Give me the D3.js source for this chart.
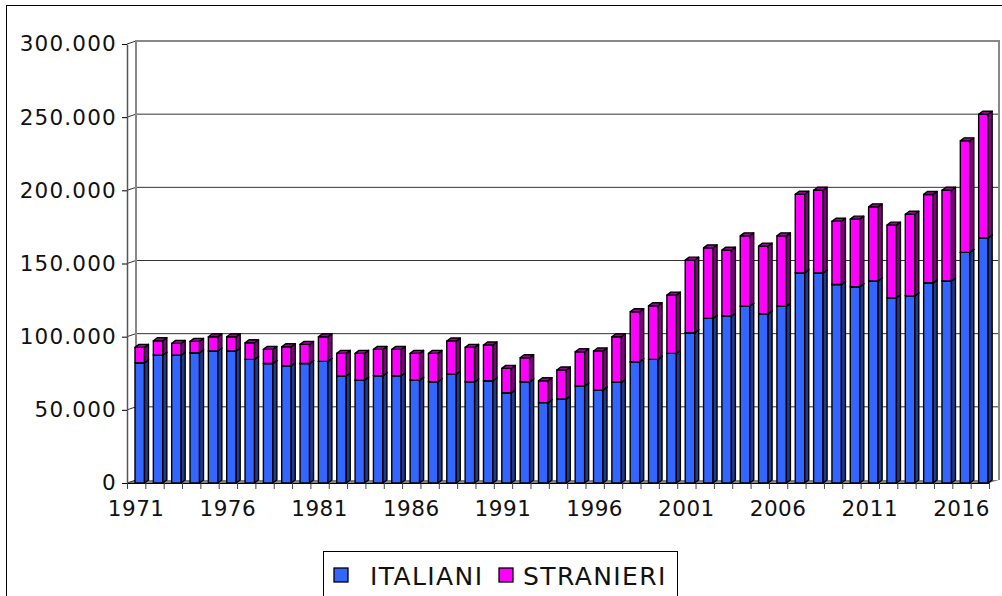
<!DOCTYPE html>
<html>
<head>
<meta charset="utf-8">
<script src="https://cdn.jsdelivr.net/npm/d3@7"></script>
<style>
  body { margin: 0; background: #fff; }
  svg { display: block; font-family: "DejaVu Sans", Verdana, sans-serif; }
</style>
</head>
<body>
<div id="canvas"></div>
<script>
"use strict"

/* data */
let years = d3.range(1971, 2018);
let italiani = [
  82200, 87400, 87400, 89000, 90200, 90200, 84500, 81700, 80100, 81700,
  83100, 73100, 70300, 73300, 73300, 70300, 69200, 74400, 69200, 69900,
  61700, 69200, 54900, 57400, 66300, 63500, 68800, 82900, 84500, 88600,
  102700, 112500, 114100, 120900, 115600, 120900, 143600, 143600, 135700, 134100,
  138000, 126600, 127900, 136800, 138000, 157600, 167500
];
let totali = [
  92700, 97200, 95400, 96800, 99900, 99900, 95800, 91300, 93100, 94700,
  99900, 88600, 88600, 91300, 91300, 88600, 88600, 97000, 92700, 94300,
  78300, 85600, 69900, 77200, 89700, 90200, 99900, 117000, 121100, 128400,
  152300, 160700, 159100, 168900, 161900, 168900, 197300, 200100, 178900, 180300,
  188700, 176200, 183700, 197200, 200100, 233800, 252000
];
let stranieri = totali.map((t, i) => t - italiani[i]);
let seriesNames = ["ITALIANI", "STRANIERI"];
let yTicks = [0, 50000, 100000, 150000, 200000, 250000, 300000];
let labelYears = years.filter(y => (y - 1971) % 5 === 0);

/* colours: front, side, top */
let colors = {
  ITALIANI: ["#3366ff", "#1f3a8f", "#2a55d0"],
  STRANIERI: ["#ff00ff", "#800080", "#a000a0"]
};

let W = 1002, H = 596;
let plotLeft = 127, plotRight = 989, plotTop = 44, plotBottom = 483;
let wallDx = 9, wallDy = -3;   // depth of back wall
let barDx = 4, barDy = -3;     // depth of each bar

let drawing = d3.select("#canvas")
  .append("svg")
  .attr("width", W)
  .attr("height", H);

/* outer frame */
drawing.append("rect")
  .attr("x", 6.5).attr("y", 5.5)
  .attr("width", 1010).attr("height", 610)
  .attr("fill", "none").attr("stroke", "black").attr("stroke-width", 1);

let y = d3.scaleLinear().domain([0, 300000]).range([plotBottom, plotTop]);
let x = d3.scaleBand().domain(years).range([plotLeft, plotRight]);
let xEdge = d3.scaleLinear().domain([0, years.length]).range([plotLeft, plotRight]);

let it = d3.formatLocale({ decimal: ",", thousands: ".", grouping: [3], currency: ["", ""] });
let fmt = it.format(",");

/* floor */
drawing.append("polygon")
  .attr("points", [[plotLeft, plotBottom], [plotLeft + wallDx, plotBottom + wallDy],
    [plotRight + wallDx + 1, plotBottom + wallDy], [plotRight, plotBottom]].join(" "))
  .attr("fill", "#808080");

/* gridlines on back wall + diagonals */
let grid = drawing.append("g");
yTicks.forEach(t => {
  if (t > 0 && t < 300000) {
    grid.append("line")
      .attr("x1", plotLeft + wallDx).attr("x2", plotRight + wallDx + 1)
      .attr("y1", y(t) + wallDy).attr("y2", y(t) + wallDy)
      .attr("stroke", "#333").attr("stroke-width", 1);
  }
  grid.append("line")
    .attr("x1", plotLeft).attr("y1", y(t))
    .attr("x2", plotLeft + wallDx).attr("y2", y(t) + wallDy)
    .attr("stroke", "#333").attr("stroke-width", 1);
});

/* back wall outline */
drawing.append("path")
  .attr("d", `M${plotLeft + wallDx},${plotBottom + wallDy} V${plotTop + wallDy} H${plotRight + wallDx + 1} V${plotBottom + wallDy}`)
  .attr("fill", "none").attr("stroke", "#888").attr("stroke-width", 2);

/* y axis */
let yAxis = drawing.append("g")
  .attr("transform", `translate(${plotLeft},0)`)
  .call(d3.axisLeft(y).tickValues(yTicks).tickFormat(fmt).tickSize(5).tickSizeOuter(0));
yAxis.select(".domain").attr("stroke", "#555").attr("stroke-width", 1.5);
yAxis.selectAll("text")
  .attr("x", -10)
  .attr("font-size", 21.5)
  .attr("letter-spacing", 1.2)
  .attr("fill", "#111")
  .attr("font-family", "DejaVu Sans");

/* x axis ticks at category edges */
let xTickAxis = drawing.append("g")
  .attr("transform", `translate(0,${plotBottom})`)
  .call(d3.axisBottom(xEdge).tickValues(d3.range(0, years.length + 1)).tickFormat("").tickSize(6).tickSizeOuter(0));
xTickAxis.select(".domain").attr("stroke", "#000").attr("stroke-width", 1.2);
xTickAxis.selectAll(".tick line").attr("stroke", "#444");

/* x labels */
let xLabelAxis = drawing.append("g")
  .attr("transform", `translate(0,${plotBottom})`)
  .call(d3.axisBottom(x).tickValues(labelYears).tickSize(0));
xLabelAxis.select(".domain").remove();
xLabelAxis.selectAll("text")
  .attr("y", 18)
  .attr("font-size", 21.5)
  .attr("letter-spacing", 0.5)
  .attr("fill", "#111")
  .attr("font-family", "DejaVu Sans");

/* stacked 3D bars */
let table = years.map((yr, i) => ({ year: yr, ITALIANI: italiani[i], STRANIERI: stranieri[i] }));
let stacked = d3.stack().keys(seriesNames)(table);
let barW = 9.5, barOff = 8;

let bars = drawing.append("g");
table.forEach((row, i) => {
  stacked.forEach(s => {
    let d = s[i];
    let x0 = x(row.year) + barOff, x1 = x0 + barW;
    let y0 = y(d[0]), y1 = y(d[1]);
    let c = colors[s.key];
    let g = bars.append("g")
      .attr("stroke", "#000").attr("stroke-width", 1.4).attr("stroke-linejoin", "round");
    g.append("rect")
      .attr("x", x0).attr("y", y1)
      .attr("width", barW).attr("height", y0 - y1)
      .attr("fill", c[0]);
    g.append("polygon")
      .attr("points", [[x1, y1], [x1 + barDx, y1 + barDy], [x1 + barDx, y0 + barDy], [x1, y0]].join(" "))
      .attr("fill", c[1]);
    g.append("polygon")
      .attr("points", [[x0, y1], [x0 + barDx, y1 + barDy], [x1 + barDx, y1 + barDy], [x1, y1]].join(" "))
      .attr("fill", c[2]);
  });
});

/* legend */
let legend = drawing.append("g");
legend.append("rect")
  .attr("x", 323.5).attr("y", 551.5)
  .attr("width", 354).attr("height", 60)
  .attr("fill", "white").attr("stroke", "black").attr("stroke-width", 1);
let legendItems = [
  { name: "ITALIANI", sx: 334, tx: 370 },
  { name: "STRANIERI", sx: 499, tx: 523 }
];
legendItems.forEach(li => {
  legend.append("rect")
    .attr("x", li.sx).attr("y", 568)
    .attr("width", 14).attr("height", 14)
    .attr("fill", colors[li.name][0])
    .attr("stroke", "#000").attr("stroke-width", 1.3);
  legend.append("text")
    .attr("x", li.tx).attr("y", 585)
    .attr("font-size", 25)
    .attr("letter-spacing", 1.4)
    .attr("fill", "#111")
    .text(li.name);
});
</script>
</body>
</html>
